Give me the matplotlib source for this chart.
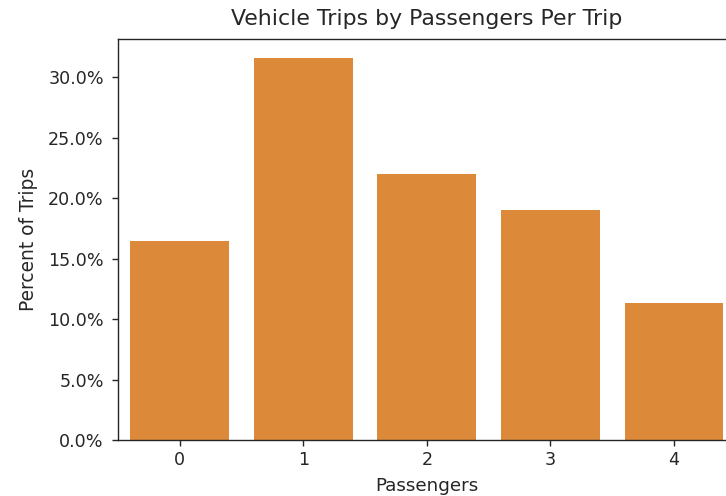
import matplotlib
matplotlib.use("Agg")
import matplotlib.pyplot as plt
from matplotlib.ticker import PercentFormatter

# passengers per trip -> share of vehicle trips (%)
passengers = ["0", "1", "2", "3", "4"]
pct_trips = [16.5, 31.6, 22.0, 19.0, 11.35]

BAR_COLOR = "#dc8a3a"
INK = "#262626"

fig = plt.figure(figsize=(7.26, 4.96), dpi=100)
# axes runs slightly past the right edge, as in the cropped original
ax = fig.add_axes([0.1625, 0.1129, 0.851, 0.8085])

x = range(len(passengers))
ax.bar(x, pct_trips, width=0.8, color=BAR_COLOR, linewidth=0)
ax.set_xticks(list(x))
ax.set_xticklabels(passengers)
ax.set_xlim(-0.5, len(passengers) - 0.5)
ax.set_ylim(0, max(pct_trips) * 1.05)
ax.set_yticks([0, 5, 10, 15, 20, 25, 30])
ax.yaxis.set_major_formatter(PercentFormatter(decimals=1))

ax.tick_params(labelsize=12.6, length=4.2, width=1.0, colors=INK)
ax.tick_params(axis="y", pad=6)
for s in ax.spines.values():
    s.set_linewidth(1.0)
    s.set_color(INK)

ax.set_title("Vehicle Trips by Passengers Per Trip", fontsize=15.8, color=INK, pad=10)
ax.set_xlabel("Passengers", fontsize=13.2, color=INK, labelpad=6)
ax.set_ylabel("Percent of Trips", fontsize=13.4, color=INK, labelpad=7)

fig.savefig("out.png", dpi=100)
